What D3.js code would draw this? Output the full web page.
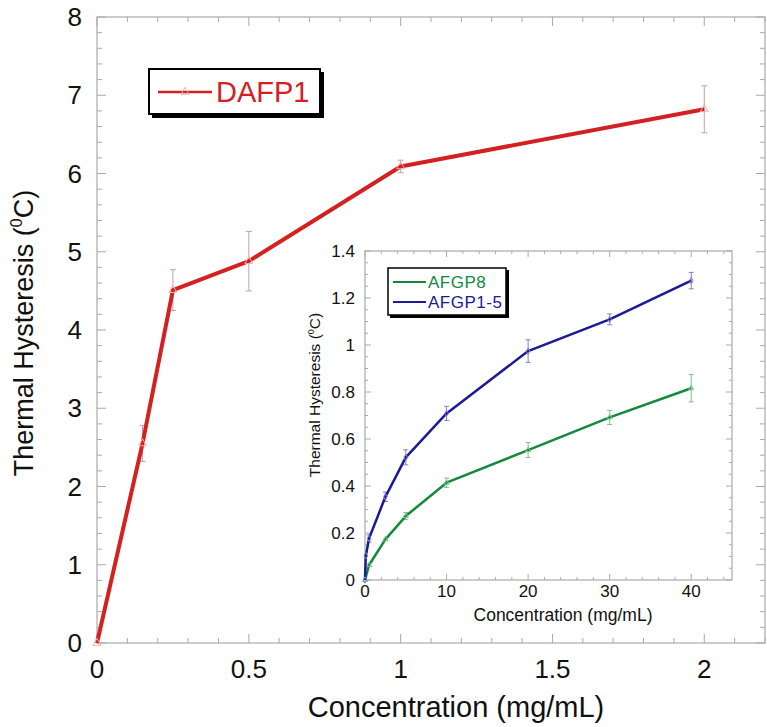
<!DOCTYPE html>
<html><head><meta charset="utf-8">
<script src="https://cdn.jsdelivr.net/npm/d3@7"></script>
<style>body{margin:0;background:#fff}svg{display:block;font-family:Arial,"Liberation Sans",sans-serif}</style>
</head><body><svg id="c" width="767" height="727"></svg>
<script>
// Main chart data (DAFP1)
const dafpX = [0, 0.15, 0.25, 0.5, 1, 2];
const dafpY = [0, 2.55, 4.51, 4.88, 6.09, 6.82];
const dafpErr = [0, 0.23, 0.26, 0.38, 0.08, 0.30];
const mainXTicks = [0, 0.5, 1, 1.5, 2];
const mainYTicks = [0, 1, 2, 3, 4, 5, 6, 7, 8];

// Inset data
const insetX = [0, 0.5, 2.5, 5, 10, 20, 30, 40];
const afgp8Y = [0, 0.064, 0.173, 0.272, 0.414, 0.553, 0.692, 0.816];
const afgp8Err = [0, 0.01, 0.012, 0.015, 0.02, 0.032, 0.03, 0.058];
const afgp15X = [0, 0.1, 0.5, 2.5, 5, 10, 20, 30, 40];
const afgp15Y = [0, 0.103, 0.177, 0.354, 0.522, 0.709, 0.974, 1.109, 1.274];
const afgp15Err = [0, 0.01, 0.015, 0.02, 0.032, 0.03, 0.048, 0.023, 0.035];
const insetXTicks = [0, 10, 20, 30, 40];
const insetYTicks = [0, 0.2, 0.4, 0.6, 0.8, 1, 1.2, 1.4];

const svg = d3.select("#c");
const frameCol = "#aaaaaa";

// ---------- main chart ----------
const M = {l: 97, r: 765, t: 17, b: 643};
const x = d3.scaleLinear().domain([0, 2.2]).range([M.l, M.r]);
const y = d3.scaleLinear().domain([0, 8]).range([M.b, M.t]);

function frameTicks(g, xs, ys, xMinor, yMinor, xMajor, yMajor, lenMin, lenMaj, col) {
  const [x0, x1] = xs.range(), [y0, y1] = ys.range();
  g.append("rect").attr("x", x0).attr("y", y1).attr("width", x1 - x0).attr("height", y0 - y1)
    .attr("fill", "none").attr("stroke", col).attr("stroke-width", 1.2);
  const isMaj = (v, step) => Math.abs(v / step - Math.round(v / step)) < 1e-6;
  xMinor.forEach(v => {
    const L = isMaj(v, xMajor) ? lenMaj : lenMin;
    const px = xs(v);
    g.append("line").attr("x1", px).attr("x2", px).attr("y1", y0).attr("y2", y0 - L).attr("stroke", col);
    g.append("line").attr("x1", px).attr("x2", px).attr("y1", y1).attr("y2", y1 + L).attr("stroke", col);
  });
  yMinor.forEach(v => {
    const L = isMaj(v, yMajor) ? lenMaj : lenMin;
    const py = ys(v);
    g.append("line").attr("x1", x0).attr("x2", x0 + L).attr("y1", py).attr("y2", py).attr("stroke", col);
    g.append("line").attr("x1", x1).attr("x2", x1 - L).attr("y1", py).attr("y2", py).attr("stroke", col);
  });
}

const gMain = svg.append("g");
frameTicks(gMain, x, y, d3.range(0, 2.2001, 0.1), d3.range(0, 8.0001, 0.2), 0.5, 1, 5, 9, frameCol);

// tick labels
gMain.selectAll(".xl").data(mainXTicks).join("text")
  .attr("x", d => x(d)).attr("y", 678).attr("text-anchor", "middle")
  .attr("font-size", 26).attr("fill", "#111").text(d => d);
gMain.selectAll(".yl").data(mainYTicks).join("text")
  .attr("x", 82).attr("y", d => y(d) + 9).attr("text-anchor", "end")
  .attr("font-size", 26).attr("fill", "#111").text(d => d);

// titles
gMain.append("text").attr("x", 456).attr("y", 717).attr("text-anchor", "middle")
  .attr("font-size", 29).attr("fill", "#111").text("Concentration (mg/mL)");
const yt = gMain.append("text").attr("transform", "translate(33,333) rotate(-90)")
  .attr("text-anchor", "middle").attr("font-size", 27).attr("fill", "#111");
yt.append("tspan").text("Thermal Hysteresis (");
yt.append("tspan").attr("font-size", 16).attr("dy", -11).text("0");
yt.append("tspan").attr("dy", 11).text("C)");

// error bars
const dafp = dafpX.map((v, i) => ({x: v, y: dafpY[i], e: dafpErr[i]}));
const eb = gMain.append("g").attr("stroke", "#c9a0a0").attr("stroke-width", 1);
dafp.filter(d => d.e > 0).forEach(d => {
  eb.append("line").attr("x1", x(d.x)).attr("x2", x(d.x)).attr("y1", y(d.y - d.e)).attr("y2", y(d.y + d.e));
  [d.y - d.e, d.y + d.e].forEach(v => eb.append("line").attr("x1", x(d.x) - 3).attr("x2", x(d.x) + 3).attr("y1", y(v)).attr("y2", y(v)));
});
gMain.append("path").datum(dafp)
  .attr("d", d3.line().x(d => x(d.x)).y(d => y(d.y)))
  .attr("fill", "none").attr("stroke", "#d42020").attr("stroke-width", 4).attr("stroke-linejoin", "round");
gMain.selectAll(".m").data(dafp).join("path")
  .attr("transform", d => `translate(${x(d.x)},${y(d.y)})`)
  .attr("d", d3.symbol(d3.symbolTriangle, 28)).attr("fill", "none").attr("stroke", "#f0b0b0").attr("stroke-width", 1);

// legend
const lg = gMain.append("g");
lg.append("rect").attr("x", 152).attr("y", 72).attr("width", 172).attr("height", 46).attr("fill", "#000");
lg.append("rect").attr("x", 149).attr("y", 69).attr("width", 171).attr("height", 45).attr("fill", "#fff").attr("stroke", "#000").attr("stroke-width", 2);
lg.append("line").attr("x1", 158).attr("x2", 212).attr("y1", 92).attr("y2", 92).attr("stroke", "#d42020").attr("stroke-width", 2.5);
lg.append("path").attr("transform", "translate(185,92)").attr("d", d3.symbol(d3.symbolTriangle, 28)).attr("fill", "none").attr("stroke", "#f0b0b0");
lg.append("text").attr("x", 216).attr("y", 102).attr("font-size", 29).attr("fill", "#d42020").text("DAFP1");

// ---------- inset ----------
const I = {l: 365, r: 732, t: 251, b: 580};
const xi = d3.scaleLinear().domain([0, 45]).range([I.l, I.r]);
const yi = d3.scaleLinear().domain([0, 1.4]).range([I.b, I.t]);
const gIn = svg.append("g");
gIn.append("rect").attr("x", I.l).attr("y", I.t).attr("width", I.r - I.l).attr("height", I.b - I.t).attr("fill", "#fff");
frameTicks(gIn, xi, yi, d3.range(0, 44.001, 2), d3.range(0, 1.4001, 0.05), 10, 0.2, 3, 6, frameCol);

gIn.selectAll(".xl").data(insetXTicks).join("text")
  .attr("x", d => xi(d)).attr("y", 597).attr("text-anchor", "middle")
  .attr("font-size", 17).attr("fill", "#111").text(d => d);
gIn.selectAll(".yl").data(insetYTicks).join("text")
  .attr("x", 355).attr("y", d => yi(d) + 6).attr("text-anchor", "end")
  .attr("font-size", 17).attr("fill", "#111").text(d => d);
gIn.append("text").attr("x", 563).attr("y", 621).attr("text-anchor", "middle")
  .attr("font-size", 17.5).attr("fill", "#111").text("Concentration (mg/mL)");
const yti = gIn.append("text").attr("transform", "translate(320,395) rotate(-90)")
  .attr("text-anchor", "middle").attr("font-size", 15.5).attr("fill", "#111");
yti.append("tspan").text("Thermal Hysteresis (");
yti.append("tspan").attr("font-size", 9).attr("dy", -6).text("0");
yti.append("tspan").attr("dy", 6).text("C)");

function series(xs, ys, es, col, ebCol, sym) {
  const data = xs.map((v, i) => ({x: v, y: ys[i], e: es[i]}));
  const g = gIn.append("g");
  const ge = g.append("g").attr("stroke", ebCol).attr("stroke-width", 1);
  data.filter(d => d.e > 0.012).forEach(d => {
    ge.append("line").attr("x1", xi(d.x)).attr("x2", xi(d.x)).attr("y1", yi(d.y - d.e)).attr("y2", yi(d.y + d.e));
    [d.y - d.e, d.y + d.e].forEach(v => ge.append("line").attr("x1", xi(d.x) - 2.5).attr("x2", xi(d.x) + 2.5).attr("y1", yi(v)).attr("y2", yi(v)));
  });
  g.append("path").datum(data).attr("d", d3.line().x(d => xi(d.x)).y(d => yi(d.y)))
    .attr("fill", "none").attr("stroke", col).attr("stroke-width", 2.5).attr("stroke-linejoin", "round");
  g.selectAll(".m").data(data).join("path")
    .attr("transform", d => `translate(${xi(d.x)},${yi(d.y)})`)
    .attr("d", d3.symbol(sym, 12)).attr("fill", "none").attr("stroke", ebCol).attr("stroke-width", 1);
}
series(insetX, afgp8Y, afgp8Err, "#128a3c", "#7cc08f", d3.symbolTriangle);
series(afgp15X, afgp15Y, afgp15Err, "#1a1a96", "#8080c8", d3.symbolDiamond);

const il = gIn.append("g");
il.append("rect").attr("x", 390).attr("y", 270).attr("width", 119).attr("height", 48).attr("fill", "#000");
il.append("rect").attr("x", 388).attr("y", 268).attr("width", 118).attr("height", 47).attr("fill", "#fff").attr("stroke", "#000").attr("stroke-width", 1.5);
[["AFGP8", "#128a3c", 282], ["AFGP1-5", "#1a1a96", 302]].forEach(([t, c, yy]) => {
  il.append("line").attr("x1", 393).attr("x2", 426).attr("y1", yy).attr("y2", yy).attr("stroke", c).attr("stroke-width", 2);
  il.append("text").attr("x", 428).attr("y", yy + 6).attr("font-size", 17).attr("letter-spacing", 0.5).attr("fill", c).text(t);
});
</script></body></html>
